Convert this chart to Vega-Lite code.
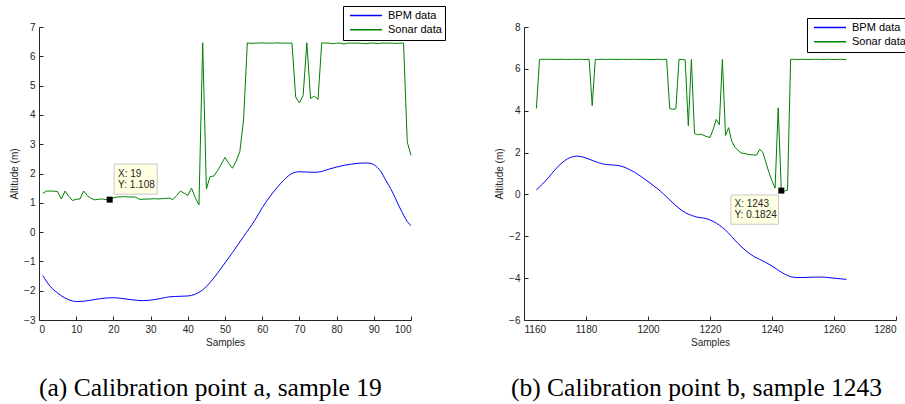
{
  "$schema": "https://vega.github.io/schema/vega-lite/v6.json",
  "padding": {"left": 9, "top": 5, "right": 0, "bottom": 0},
  "background": "white",
  "config": {
    "view": {"stroke": null},
    "axis": {"domainColor": "#262626", "tickColor": "#262626", "labelColor": "#262626", "titleColor": "#262626", "labelFont": "Liberation Sans", "titleFont": "Liberation Sans", "labelFontSize": 10, "titleFontSize": 10, "titleFontWeight": "normal", "grid": false, "tickSize": -4, "labelPadding": 8, "domainWidth": 1, "labelOverlap": false},
    "axisY": {"titlePadding": 4},
    "axisX": {"titlePadding": 3},
    "legend": {"orient": "none", "title": null, "strokeColor": "black", "fillColor": "white", "padding": 3, "rowPadding": 1.3, "clipHeight": 13, "symbolOffset": 3, "labelOffset": 5, "symbolType": "stroke", "symbolSize": 1024, "symbolStrokeWidth": 1.5, "labelFont": "Liberation Sans", "labelFontSize": 11, "labelColor": "black", "cornerRadius": 0},
    "title": {"font": "Liberation Serif", "fontSize": 25.5, "fontWeight": "normal", "color": "black", "orient": "bottom", "anchor": "start", "frame": "group", "baseline": "top", "offset": 29}
  },
  "datasets": {
    "a": [
      {"sample": 1, "altitude": -1.48, "series": "BPM data"},
      {"sample": 3, "altitude": -1.85, "series": "BPM data"},
      {"sample": 5, "altitude": -2.08, "series": "BPM data"},
      {"sample": 7, "altitude": -2.25, "series": "BPM data"},
      {"sample": 9, "altitude": -2.35, "series": "BPM data"},
      {"sample": 10, "altitude": -2.37, "series": "BPM data"},
      {"sample": 12, "altitude": -2.36, "series": "BPM data"},
      {"sample": 15, "altitude": -2.3, "series": "BPM data"},
      {"sample": 18, "altitude": -2.25, "series": "BPM data"},
      {"sample": 20, "altitude": -2.24, "series": "BPM data"},
      {"sample": 22, "altitude": -2.26, "series": "BPM data"},
      {"sample": 25, "altitude": -2.31, "series": "BPM data"},
      {"sample": 28, "altitude": -2.34, "series": "BPM data"},
      {"sample": 30, "altitude": -2.32, "series": "BPM data"},
      {"sample": 33, "altitude": -2.26, "series": "BPM data"},
      {"sample": 35, "altitude": -2.21, "series": "BPM data"},
      {"sample": 38, "altitude": -2.19, "series": "BPM data"},
      {"sample": 40, "altitude": -2.18, "series": "BPM data"},
      {"sample": 42, "altitude": -2.12, "series": "BPM data"},
      {"sample": 44, "altitude": -1.97, "series": "BPM data"},
      {"sample": 46, "altitude": -1.72, "series": "BPM data"},
      {"sample": 48, "altitude": -1.4, "series": "BPM data"},
      {"sample": 50, "altitude": -1.05, "series": "BPM data"},
      {"sample": 52, "altitude": -0.7, "series": "BPM data"},
      {"sample": 55, "altitude": -0.15, "series": "BPM data"},
      {"sample": 58, "altitude": 0.4, "series": "BPM data"},
      {"sample": 60, "altitude": 0.83, "series": "BPM data"},
      {"sample": 62, "altitude": 1.2, "series": "BPM data"},
      {"sample": 64, "altitude": 1.52, "series": "BPM data"},
      {"sample": 66, "altitude": 1.8, "series": "BPM data"},
      {"sample": 68, "altitude": 2.0, "series": "BPM data"},
      {"sample": 70, "altitude": 2.06, "series": "BPM data"},
      {"sample": 72, "altitude": 2.05, "series": "BPM data"},
      {"sample": 74, "altitude": 2.04, "series": "BPM data"},
      {"sample": 76, "altitude": 2.07, "series": "BPM data"},
      {"sample": 78, "altitude": 2.15, "series": "BPM data"},
      {"sample": 80, "altitude": 2.22, "series": "BPM data"},
      {"sample": 82, "altitude": 2.28, "series": "BPM data"},
      {"sample": 84, "altitude": 2.32, "series": "BPM data"},
      {"sample": 86, "altitude": 2.35, "series": "BPM data"},
      {"sample": 88, "altitude": 2.36, "series": "BPM data"},
      {"sample": 89, "altitude": 2.35, "series": "BPM data"},
      {"sample": 90, "altitude": 2.3, "series": "BPM data"},
      {"sample": 91, "altitude": 2.2, "series": "BPM data"},
      {"sample": 92, "altitude": 2.05, "series": "BPM data"},
      {"sample": 93, "altitude": 1.82, "series": "BPM data"},
      {"sample": 94, "altitude": 1.6, "series": "BPM data"},
      {"sample": 95, "altitude": 1.37, "series": "BPM data"},
      {"sample": 96, "altitude": 1.1, "series": "BPM data"},
      {"sample": 97, "altitude": 0.83, "series": "BPM data"},
      {"sample": 98, "altitude": 0.58, "series": "BPM data"},
      {"sample": 99, "altitude": 0.36, "series": "BPM data"},
      {"sample": 100, "altitude": 0.22, "series": "BPM data"},
      {"sample": 1, "altitude": 1.32, "series": "Sonar data"},
      {"sample": 2, "altitude": 1.4, "series": "Sonar data"},
      {"sample": 3, "altitude": 1.4, "series": "Sonar data"},
      {"sample": 4, "altitude": 1.4, "series": "Sonar data"},
      {"sample": 5, "altitude": 1.38, "series": "Sonar data"},
      {"sample": 6, "altitude": 1.13, "series": "Sonar data"},
      {"sample": 7, "altitude": 1.4, "series": "Sonar data"},
      {"sample": 8, "altitude": 1.22, "series": "Sonar data"},
      {"sample": 9, "altitude": 1.08, "series": "Sonar data"},
      {"sample": 10, "altitude": 1.12, "series": "Sonar data"},
      {"sample": 11, "altitude": 1.13, "series": "Sonar data"},
      {"sample": 12, "altitude": 1.4, "series": "Sonar data"},
      {"sample": 13, "altitude": 1.25, "series": "Sonar data"},
      {"sample": 14, "altitude": 1.15, "series": "Sonar data"},
      {"sample": 15, "altitude": 1.1, "series": "Sonar data"},
      {"sample": 16, "altitude": 1.12, "series": "Sonar data"},
      {"sample": 17, "altitude": 1.13, "series": "Sonar data"},
      {"sample": 18, "altitude": 1.11, "series": "Sonar data"},
      {"sample": 19, "altitude": 1.108, "series": "Sonar data"},
      {"sample": 20, "altitude": 1.17, "series": "Sonar data"},
      {"sample": 21, "altitude": 1.2, "series": "Sonar data"},
      {"sample": 22, "altitude": 1.2, "series": "Sonar data"},
      {"sample": 23, "altitude": 1.21, "series": "Sonar data"},
      {"sample": 24, "altitude": 1.2, "series": "Sonar data"},
      {"sample": 25, "altitude": 1.2, "series": "Sonar data"},
      {"sample": 26, "altitude": 1.19, "series": "Sonar data"},
      {"sample": 27, "altitude": 1.12, "series": "Sonar data"},
      {"sample": 28, "altitude": 1.12, "series": "Sonar data"},
      {"sample": 29, "altitude": 1.13, "series": "Sonar data"},
      {"sample": 30, "altitude": 1.13, "series": "Sonar data"},
      {"sample": 31, "altitude": 1.14, "series": "Sonar data"},
      {"sample": 32, "altitude": 1.13, "series": "Sonar data"},
      {"sample": 33, "altitude": 1.14, "series": "Sonar data"},
      {"sample": 34, "altitude": 1.15, "series": "Sonar data"},
      {"sample": 35, "altitude": 1.16, "series": "Sonar data"},
      {"sample": 36, "altitude": 1.11, "series": "Sonar data"},
      {"sample": 37, "altitude": 1.25, "series": "Sonar data"},
      {"sample": 38, "altitude": 1.4, "series": "Sonar data"},
      {"sample": 39, "altitude": 1.33, "series": "Sonar data"},
      {"sample": 40, "altitude": 1.25, "series": "Sonar data"},
      {"sample": 41, "altitude": 1.5, "series": "Sonar data"},
      {"sample": 42, "altitude": 1.18, "series": "Sonar data"},
      {"sample": 43, "altitude": 0.93, "series": "Sonar data"},
      {"sample": 44, "altitude": 6.46, "series": "Sonar data"},
      {"sample": 45, "altitude": 1.47, "series": "Sonar data"},
      {"sample": 46, "altitude": 1.9, "series": "Sonar data"},
      {"sample": 47, "altitude": 1.91, "series": "Sonar data"},
      {"sample": 48, "altitude": 2.1, "series": "Sonar data"},
      {"sample": 49, "altitude": 2.32, "series": "Sonar data"},
      {"sample": 50, "altitude": 2.55, "series": "Sonar data"},
      {"sample": 51, "altitude": 2.35, "series": "Sonar data"},
      {"sample": 52, "altitude": 2.18, "series": "Sonar data"},
      {"sample": 53, "altitude": 2.42, "series": "Sonar data"},
      {"sample": 54, "altitude": 2.76, "series": "Sonar data"},
      {"sample": 55, "altitude": 3.85, "series": "Sonar data"},
      {"sample": 56, "altitude": 6.46, "series": "Sonar data"},
      {"sample": 57, "altitude": 6.44, "series": "Sonar data"},
      {"sample": 58, "altitude": 6.45, "series": "Sonar data"},
      {"sample": 59, "altitude": 6.45, "series": "Sonar data"},
      {"sample": 60, "altitude": 6.46, "series": "Sonar data"},
      {"sample": 61, "altitude": 6.45, "series": "Sonar data"},
      {"sample": 62, "altitude": 6.45, "series": "Sonar data"},
      {"sample": 63, "altitude": 6.45, "series": "Sonar data"},
      {"sample": 64, "altitude": 6.46, "series": "Sonar data"},
      {"sample": 65, "altitude": 6.45, "series": "Sonar data"},
      {"sample": 66, "altitude": 6.45, "series": "Sonar data"},
      {"sample": 67, "altitude": 6.45, "series": "Sonar data"},
      {"sample": 68, "altitude": 6.45, "series": "Sonar data"},
      {"sample": 69, "altitude": 4.61, "series": "Sonar data"},
      {"sample": 70, "altitude": 4.41, "series": "Sonar data"},
      {"sample": 71, "altitude": 4.66, "series": "Sonar data"},
      {"sample": 72, "altitude": 6.46, "series": "Sonar data"},
      {"sample": 73, "altitude": 4.56, "series": "Sonar data"},
      {"sample": 74, "altitude": 4.64, "series": "Sonar data"},
      {"sample": 75, "altitude": 4.53, "series": "Sonar data"},
      {"sample": 76, "altitude": 6.46, "series": "Sonar data"},
      {"sample": 77, "altitude": 6.45, "series": "Sonar data"},
      {"sample": 78, "altitude": 6.45, "series": "Sonar data"},
      {"sample": 79, "altitude": 6.43, "series": "Sonar data"},
      {"sample": 80, "altitude": 6.45, "series": "Sonar data"},
      {"sample": 81, "altitude": 6.45, "series": "Sonar data"},
      {"sample": 82, "altitude": 6.42, "series": "Sonar data"},
      {"sample": 83, "altitude": 6.45, "series": "Sonar data"},
      {"sample": 84, "altitude": 6.45, "series": "Sonar data"},
      {"sample": 85, "altitude": 6.45, "series": "Sonar data"},
      {"sample": 86, "altitude": 6.45, "series": "Sonar data"},
      {"sample": 87, "altitude": 6.44, "series": "Sonar data"},
      {"sample": 88, "altitude": 6.43, "series": "Sonar data"},
      {"sample": 89, "altitude": 6.45, "series": "Sonar data"},
      {"sample": 90, "altitude": 6.45, "series": "Sonar data"},
      {"sample": 91, "altitude": 6.43, "series": "Sonar data"},
      {"sample": 92, "altitude": 6.45, "series": "Sonar data"},
      {"sample": 93, "altitude": 6.45, "series": "Sonar data"},
      {"sample": 94, "altitude": 6.45, "series": "Sonar data"},
      {"sample": 95, "altitude": 6.45, "series": "Sonar data"},
      {"sample": 96, "altitude": 6.44, "series": "Sonar data"},
      {"sample": 97, "altitude": 6.45, "series": "Sonar data"},
      {"sample": 98, "altitude": 6.45, "series": "Sonar data"},
      {"sample": 99, "altitude": 3.07, "series": "Sonar data"},
      {"sample": 100, "altitude": 2.62, "series": "Sonar data"}
    ],
    "b": [
      {"sample": 1164, "altitude": 0.22, "series": "BPM data"},
      {"sample": 1166, "altitude": 0.5, "series": "BPM data"},
      {"sample": 1168, "altitude": 0.82, "series": "BPM data"},
      {"sample": 1170, "altitude": 1.18, "series": "BPM data"},
      {"sample": 1172, "altitude": 1.48, "series": "BPM data"},
      {"sample": 1174, "altitude": 1.7, "series": "BPM data"},
      {"sample": 1176, "altitude": 1.81, "series": "BPM data"},
      {"sample": 1177, "altitude": 1.83, "series": "BPM data"},
      {"sample": 1178, "altitude": 1.82, "series": "BPM data"},
      {"sample": 1180, "altitude": 1.74, "series": "BPM data"},
      {"sample": 1182, "altitude": 1.63, "series": "BPM data"},
      {"sample": 1184, "altitude": 1.52, "series": "BPM data"},
      {"sample": 1186, "altitude": 1.44, "series": "BPM data"},
      {"sample": 1188, "altitude": 1.41, "series": "BPM data"},
      {"sample": 1190, "altitude": 1.39, "series": "BPM data"},
      {"sample": 1192, "altitude": 1.32, "series": "BPM data"},
      {"sample": 1194, "altitude": 1.19, "series": "BPM data"},
      {"sample": 1196, "altitude": 1.03, "series": "BPM data"},
      {"sample": 1198, "altitude": 0.83, "series": "BPM data"},
      {"sample": 1200, "altitude": 0.62, "series": "BPM data"},
      {"sample": 1202, "altitude": 0.39, "series": "BPM data"},
      {"sample": 1204, "altitude": 0.16, "series": "BPM data"},
      {"sample": 1206, "altitude": -0.12, "series": "BPM data"},
      {"sample": 1208, "altitude": -0.4, "series": "BPM data"},
      {"sample": 1210, "altitude": -0.66, "series": "BPM data"},
      {"sample": 1212, "altitude": -0.87, "series": "BPM data"},
      {"sample": 1214, "altitude": -1.0, "series": "BPM data"},
      {"sample": 1216, "altitude": -1.09, "series": "BPM data"},
      {"sample": 1218, "altitude": -1.13, "series": "BPM data"},
      {"sample": 1220, "altitude": -1.22, "series": "BPM data"},
      {"sample": 1222, "altitude": -1.37, "series": "BPM data"},
      {"sample": 1224, "altitude": -1.58, "series": "BPM data"},
      {"sample": 1226, "altitude": -1.85, "series": "BPM data"},
      {"sample": 1228, "altitude": -2.18, "series": "BPM data"},
      {"sample": 1230, "altitude": -2.48, "series": "BPM data"},
      {"sample": 1232, "altitude": -2.74, "series": "BPM data"},
      {"sample": 1234, "altitude": -2.95, "series": "BPM data"},
      {"sample": 1236, "altitude": -3.1, "series": "BPM data"},
      {"sample": 1238, "altitude": -3.25, "series": "BPM data"},
      {"sample": 1240, "altitude": -3.42, "series": "BPM data"},
      {"sample": 1242, "altitude": -3.62, "series": "BPM data"},
      {"sample": 1244, "altitude": -3.8, "series": "BPM data"},
      {"sample": 1246, "altitude": -3.93, "series": "BPM data"},
      {"sample": 1248, "altitude": -3.97, "series": "BPM data"},
      {"sample": 1250, "altitude": -3.97, "series": "BPM data"},
      {"sample": 1252, "altitude": -3.96, "series": "BPM data"},
      {"sample": 1254, "altitude": -3.95, "series": "BPM data"},
      {"sample": 1256, "altitude": -3.95, "series": "BPM data"},
      {"sample": 1258, "altitude": -3.97, "series": "BPM data"},
      {"sample": 1260, "altitude": -4.0, "series": "BPM data"},
      {"sample": 1262, "altitude": -4.03, "series": "BPM data"},
      {"sample": 1264, "altitude": -4.06, "series": "BPM data"},
      {"sample": 1164, "altitude": 4.11, "series": "Sonar data"},
      {"sample": 1165, "altitude": 6.45, "series": "Sonar data"},
      {"sample": 1166, "altitude": 6.46, "series": "Sonar data"},
      {"sample": 1167, "altitude": 6.46, "series": "Sonar data"},
      {"sample": 1168, "altitude": 6.45, "series": "Sonar data"},
      {"sample": 1169, "altitude": 6.46, "series": "Sonar data"},
      {"sample": 1170, "altitude": 6.45, "series": "Sonar data"},
      {"sample": 1171, "altitude": 6.45, "series": "Sonar data"},
      {"sample": 1172, "altitude": 6.46, "series": "Sonar data"},
      {"sample": 1173, "altitude": 6.45, "series": "Sonar data"},
      {"sample": 1174, "altitude": 6.45, "series": "Sonar data"},
      {"sample": 1175, "altitude": 6.45, "series": "Sonar data"},
      {"sample": 1176, "altitude": 6.46, "series": "Sonar data"},
      {"sample": 1177, "altitude": 6.45, "series": "Sonar data"},
      {"sample": 1178, "altitude": 6.46, "series": "Sonar data"},
      {"sample": 1179, "altitude": 6.45, "series": "Sonar data"},
      {"sample": 1180, "altitude": 6.45, "series": "Sonar data"},
      {"sample": 1181, "altitude": 6.46, "series": "Sonar data"},
      {"sample": 1182, "altitude": 4.24, "series": "Sonar data"},
      {"sample": 1183, "altitude": 6.45, "series": "Sonar data"},
      {"sample": 1184, "altitude": 6.45, "series": "Sonar data"},
      {"sample": 1185, "altitude": 6.46, "series": "Sonar data"},
      {"sample": 1186, "altitude": 6.45, "series": "Sonar data"},
      {"sample": 1187, "altitude": 6.45, "series": "Sonar data"},
      {"sample": 1188, "altitude": 6.46, "series": "Sonar data"},
      {"sample": 1189, "altitude": 6.45, "series": "Sonar data"},
      {"sample": 1190, "altitude": 6.45, "series": "Sonar data"},
      {"sample": 1191, "altitude": 6.45, "series": "Sonar data"},
      {"sample": 1192, "altitude": 6.46, "series": "Sonar data"},
      {"sample": 1193, "altitude": 6.45, "series": "Sonar data"},
      {"sample": 1194, "altitude": 6.45, "series": "Sonar data"},
      {"sample": 1195, "altitude": 6.46, "series": "Sonar data"},
      {"sample": 1196, "altitude": 6.45, "series": "Sonar data"},
      {"sample": 1197, "altitude": 6.45, "series": "Sonar data"},
      {"sample": 1198, "altitude": 6.45, "series": "Sonar data"},
      {"sample": 1199, "altitude": 6.46, "series": "Sonar data"},
      {"sample": 1200, "altitude": 6.45, "series": "Sonar data"},
      {"sample": 1201, "altitude": 6.45, "series": "Sonar data"},
      {"sample": 1202, "altitude": 6.45, "series": "Sonar data"},
      {"sample": 1203, "altitude": 6.46, "series": "Sonar data"},
      {"sample": 1204, "altitude": 6.45, "series": "Sonar data"},
      {"sample": 1205, "altitude": 6.45, "series": "Sonar data"},
      {"sample": 1206, "altitude": 6.46, "series": "Sonar data"},
      {"sample": 1207, "altitude": 4.11, "series": "Sonar data"},
      {"sample": 1208, "altitude": 4.06, "series": "Sonar data"},
      {"sample": 1209, "altitude": 4.1, "series": "Sonar data"},
      {"sample": 1210, "altitude": 6.45, "series": "Sonar data"},
      {"sample": 1211, "altitude": 6.45, "series": "Sonar data"},
      {"sample": 1212, "altitude": 6.43, "series": "Sonar data"},
      {"sample": 1213, "altitude": 3.28, "series": "Sonar data"},
      {"sample": 1214, "altitude": 6.45, "series": "Sonar data"},
      {"sample": 1215, "altitude": 2.92, "series": "Sonar data"},
      {"sample": 1216, "altitude": 2.85, "series": "Sonar data"},
      {"sample": 1217, "altitude": 2.88, "series": "Sonar data"},
      {"sample": 1218, "altitude": 2.82, "series": "Sonar data"},
      {"sample": 1219, "altitude": 2.76, "series": "Sonar data"},
      {"sample": 1220, "altitude": 2.72, "series": "Sonar data"},
      {"sample": 1221, "altitude": 3.1, "series": "Sonar data"},
      {"sample": 1222, "altitude": 3.58, "series": "Sonar data"},
      {"sample": 1223, "altitude": 3.33, "series": "Sonar data"},
      {"sample": 1224, "altitude": 6.45, "series": "Sonar data"},
      {"sample": 1225, "altitude": 2.82, "series": "Sonar data"},
      {"sample": 1226, "altitude": 3.19, "series": "Sonar data"},
      {"sample": 1227, "altitude": 2.55, "series": "Sonar data"},
      {"sample": 1228, "altitude": 2.26, "series": "Sonar data"},
      {"sample": 1229, "altitude": 2.12, "series": "Sonar data"},
      {"sample": 1230, "altitude": 1.98, "series": "Sonar data"},
      {"sample": 1231, "altitude": 1.96, "series": "Sonar data"},
      {"sample": 1232, "altitude": 1.92, "series": "Sonar data"},
      {"sample": 1233, "altitude": 1.9, "series": "Sonar data"},
      {"sample": 1234, "altitude": 1.89, "series": "Sonar data"},
      {"sample": 1235, "altitude": 1.87, "series": "Sonar data"},
      {"sample": 1236, "altitude": 2.15, "series": "Sonar data"},
      {"sample": 1237, "altitude": 2.02, "series": "Sonar data"},
      {"sample": 1238, "altitude": 1.55, "series": "Sonar data"},
      {"sample": 1239, "altitude": 1.05, "series": "Sonar data"},
      {"sample": 1240, "altitude": 0.65, "series": "Sonar data"},
      {"sample": 1241, "altitude": 0.3, "series": "Sonar data"},
      {"sample": 1242, "altitude": 4.14, "series": "Sonar data"},
      {"sample": 1243, "altitude": 0.1824, "series": "Sonar data"},
      {"sample": 1244, "altitude": 0.16, "series": "Sonar data"},
      {"sample": 1245, "altitude": 0.2, "series": "Sonar data"},
      {"sample": 1246, "altitude": 6.45, "series": "Sonar data"},
      {"sample": 1247, "altitude": 6.46, "series": "Sonar data"},
      {"sample": 1248, "altitude": 6.45, "series": "Sonar data"},
      {"sample": 1249, "altitude": 6.45, "series": "Sonar data"},
      {"sample": 1250, "altitude": 6.46, "series": "Sonar data"},
      {"sample": 1251, "altitude": 6.45, "series": "Sonar data"},
      {"sample": 1252, "altitude": 6.45, "series": "Sonar data"},
      {"sample": 1253, "altitude": 6.45, "series": "Sonar data"},
      {"sample": 1254, "altitude": 6.46, "series": "Sonar data"},
      {"sample": 1255, "altitude": 6.45, "series": "Sonar data"},
      {"sample": 1256, "altitude": 6.45, "series": "Sonar data"},
      {"sample": 1257, "altitude": 6.45, "series": "Sonar data"},
      {"sample": 1258, "altitude": 6.46, "series": "Sonar data"},
      {"sample": 1259, "altitude": 6.45, "series": "Sonar data"},
      {"sample": 1260, "altitude": 6.45, "series": "Sonar data"},
      {"sample": 1261, "altitude": 6.45, "series": "Sonar data"},
      {"sample": 1262, "altitude": 6.46, "series": "Sonar data"},
      {"sample": 1263, "altitude": 6.45, "series": "Sonar data"},
      {"sample": 1264, "altitude": 6.44, "series": "Sonar data"}
    ],
    "tipA": [{"sample": 19, "altitude": 1.108, "tip": "X: 19\nY: 1.108"}],
    "tipB": [{"sample": 1243, "altitude": 0.1824, "tip": "X: 1243\nY: 0.1824"}]
  },
  "resolve": {"legend": {"color": "independent"}},
  "bounds": "flush",
  "spacing": 113,
  "hconcat": [
    {
      "width": 372,
      "height": 293,
      "title": {"text": "(a) Calibration point a, sample 19", "dx": 0},
      "layer": [
        {
          "data": {"name": "a"},
          "transform": [{"filter": "datum.series === 'BPM data'"}],
          "mark": {"type": "line", "strokeWidth": 1, "interpolate": "monotone"},
          "encoding": {
            "x": {"field": "sample", "type": "quantitative", "scale": {"domain": [0, 100], "nice": false, "zero": false}, "axis": {"title": "Samples", "values": [0, 10, 20, 30, 40, 50, 60, 70, 80, 90, 100], "tickCount": 11, "format": "d", "labelOverlap": false}},
            "y": {"field": "altitude", "type": "quantitative", "scale": {"domain": [-3, 7], "nice": false, "zero": false}, "axis": {"title": "Altitude (m)", "values": [-3, -2, -1, 0, 1, 2, 3, 4, 5, 6, 7], "tickCount": 11, "format": "d", "labelOverlap": false}},
            "color": {"field": "series", "type": "nominal", "scale": {"domain": ["BPM data", "Sonar data"], "range": ["#0000ff", "#008000"]}, "legend": {"legendX": 304, "legendY": -21}}
          }
        },
        {
          "data": {"name": "a"},
          "transform": [{"filter": "datum.series === 'Sonar data'"}],
          "mark": {"type": "line", "strokeWidth": 1},
          "encoding": {
            "x": {"field": "sample", "type": "quantitative"},
            "y": {"field": "altitude", "type": "quantitative"},
            "color": {"field": "series", "type": "nominal"}
          }
        },
        {
          "data": {"name": "tipA"},
          "mark": {"type": "point", "shape": "M-1,-0.7L1,-0.7L1,0.7L-1,0.7Z", "size": 1849, "filled": true, "fill": "#ffffe1", "stroke": "#c8c8c8", "strokeWidth": 1, "opacity": 1, "fillOpacity": 1, "xOffset": 26, "yOffset": -20.5},
          "encoding": {"x": {"field": "sample", "type": "quantitative"}, "y": {"field": "altitude", "type": "quantitative"}}
        },
        {
          "data": {"name": "tipA"},
          "mark": {"type": "point", "shape": "square", "size": 36, "filled": true, "color": "black", "opacity": 1},
          "encoding": {"x": {"field": "sample", "type": "quantitative"}, "y": {"field": "altitude", "type": "quantitative"}}
        },
        {
          "data": {"name": "tipA"},
          "mark": {"type": "text", "align": "left", "baseline": "top", "dx": 8.4, "dy": -30.5, "lineBreak": "\n", "lineHeight": 11, "font": "Liberation Sans", "fontSize": 10, "color": "#262626"},
          "encoding": {"x": {"field": "sample", "type": "quantitative"}, "y": {"field": "altitude", "type": "quantitative"}, "text": {"field": "tip"}}
        }
      ]
    },
    {
      "width": 372,
      "height": 293,
      "title": {"text": "(b) Calibration point b, sample 1243", "dx": -13},
      "layer": [
        {
          "data": {"name": "b"},
          "transform": [{"filter": "datum.series === 'BPM data'"}],
          "mark": {"type": "line", "strokeWidth": 1, "interpolate": "monotone"},
          "encoding": {
            "x": {"field": "sample", "type": "quantitative", "scale": {"domain": [1160, 1280], "nice": false, "zero": false}, "axis": {"title": "Samples", "values": [1160, 1180, 1200, 1220, 1240, 1260, 1280], "format": "d", "labelOverlap": false}},
            "y": {"field": "altitude", "type": "quantitative", "scale": {"domain": [-6, 8], "nice": false, "zero": false}, "axis": {"title": "Altitude (m)", "values": [-6, -4, -2, 0, 2, 4, 6, 8], "format": "d", "labelOverlap": false}},
            "color": {"field": "series", "type": "nominal", "scale": {"domain": ["BPM data", "Sonar data"], "range": ["#0000ff", "#008000"]}, "legend": {"legendX": 283, "legendY": -9}}
          }
        },
        {
          "data": {"name": "b"},
          "transform": [{"filter": "datum.series === 'Sonar data'"}],
          "mark": {"type": "line", "strokeWidth": 1},
          "encoding": {
            "x": {"field": "sample", "type": "quantitative"},
            "y": {"field": "altitude", "type": "quantitative"},
            "color": {"field": "series", "type": "nominal"}
          }
        },
        {
          "data": {"name": "tipB"},
          "mark": {"type": "point", "shape": "M-1,-0.615L1,-0.615L1,0.615L-1,0.615Z", "size": 2266, "filled": true, "fill": "#ffffe1", "stroke": "#c8c8c8", "strokeWidth": 1, "opacity": 1, "fillOpacity": 1, "xOffset": -26.6, "yOffset": 19},
          "encoding": {"x": {"field": "sample", "type": "quantitative"}, "y": {"field": "altitude", "type": "quantitative"}}
        },
        {
          "data": {"name": "tipB"},
          "mark": {"type": "point", "shape": "square", "size": 36, "filled": true, "color": "black", "opacity": 1},
          "encoding": {"x": {"field": "sample", "type": "quantitative"}, "y": {"field": "altitude", "type": "quantitative"}}
        },
        {
          "data": {"name": "tipB"},
          "mark": {"type": "text", "align": "left", "baseline": "top", "dx": -46.8, "dy": 8, "lineBreak": "\n", "lineHeight": 11, "font": "Liberation Sans", "fontSize": 10, "color": "#262626"},
          "encoding": {"x": {"field": "sample", "type": "quantitative"}, "y": {"field": "altitude", "type": "quantitative"}, "text": {"field": "tip"}}
        }
      ]
    }
  ]
}
